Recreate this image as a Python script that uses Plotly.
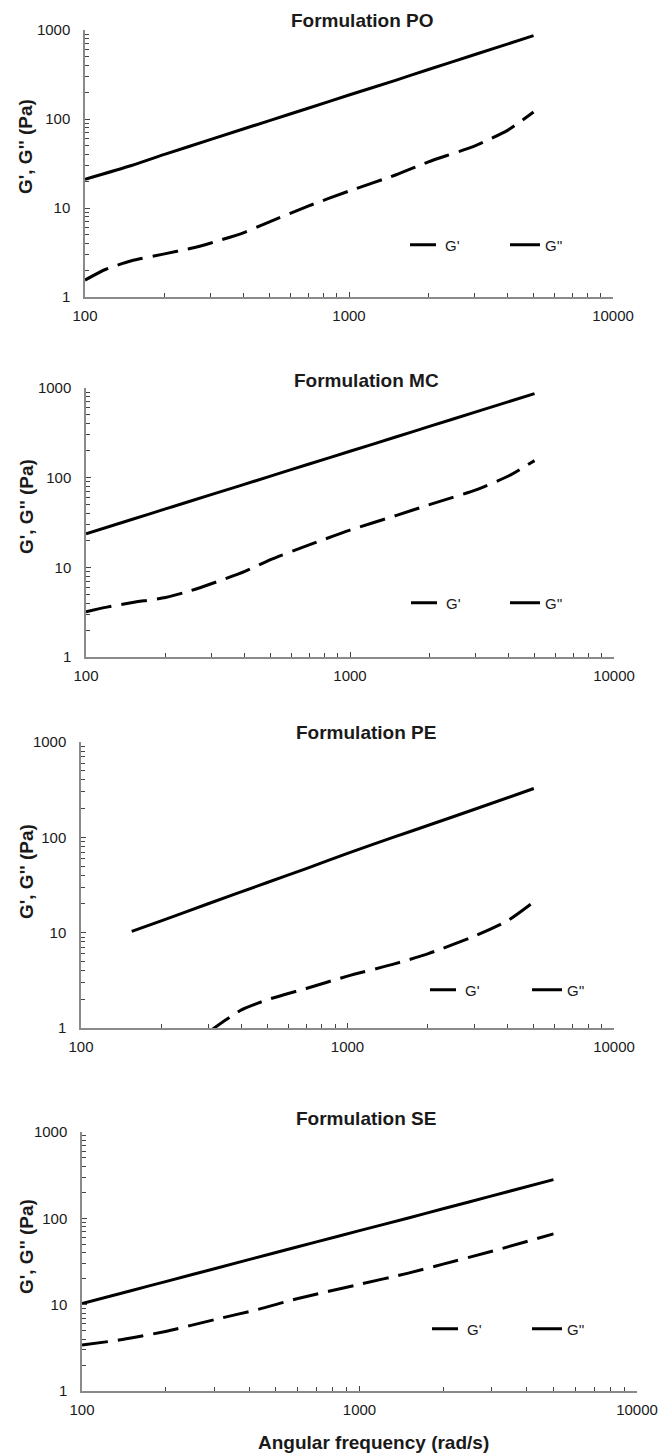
import plotly.graph_objects as go

W, H = 672, 1453

# ---------------- data ----------------
titles = ["Formulation PO", "Formulation MC", "Formulation PE", "Formulation SE"]

po_freq_loss = [100, 150, 200, 300, 500, 700, 1000, 1500, 2000, 3000, 5000]
po_loss = [21, 30, 40, 59, 96, 132, 186, 272, 360, 530, 864]
po_freq_storage = [100, 120, 150, 200, 250, 300, 400, 500, 700, 1000, 1500, 2000, 3000, 4000, 5000]
po_storage = [1.55, 2.05, 2.55, 3.05, 3.5, 4.05, 5.3, 7.0, 10.5, 15.5, 23.5, 33, 50, 75, 120]

mc_freq_loss = [100, 150, 200, 300, 500, 700, 1000, 1500, 2000, 3000, 5000]
mc_loss = [23.7, 34.4, 44.8, 65, 104, 142, 197, 286, 373, 542, 865]
mc_freq_storage = [100, 120, 150, 200, 250, 300, 400, 500, 700, 1000, 1500, 2000, 3000, 4000, 5000]
mc_storage = [3.2, 3.6, 4.05, 4.6, 5.5, 6.6, 9.0, 12.2, 17.8, 26, 38, 50, 73, 105, 155]

pe_freq_loss = [155, 200, 300, 500, 700, 1000, 1500, 2000, 3000, 5000]
pe_loss = [10.3, 13.3, 20.1, 33.6, 47, 68, 101, 133, 197, 325]
pe_freq_storage = [300, 350, 400, 500, 700, 1000, 1500, 2000, 3000, 4000, 5000]
pe_storage = [0.9, 1.22, 1.55, 1.98, 2.6, 3.5, 4.7, 6.0, 9.2, 13.4, 21]

se_freq_loss = [100, 150, 200, 300, 500, 700, 1000, 1500, 2000, 3000, 5000]
se_loss = [10.3, 14.5, 18.5, 26.1, 40.2, 53.4, 72, 101, 129, 182, 281]
se_freq_storage = [100, 140, 200, 300, 430, 600, 1000, 1500, 2000, 3000, 5000]
se_storage = [3.4, 3.95, 4.9, 6.7, 8.8, 11.8, 17.2, 23.2, 29.5, 41.5, 66]

x_tick_vals = [100, 1000, 10000]
x_tick_text = ["100", "1000", "10000"]
x_minor_vals = [200, 300, 400, 500, 600, 700, 800, 900, 2000, 3000, 4000, 5000, 6000, 7000, 8000, 9000]
y_tick_vals = [1, 10, 100, 1000]
y_tick_text = ["1", "10", "100", "1000"]
y_minor_vals = [2, 3, 4, 5, 6, 7, 8, 9, 20, 30, 40, 50, 60, 70, 80, 90, 200, 300, 400, 500, 600, 700, 800, 900]

storage_name = "G'"
loss_name = "G''"
y_label = "G', G'' (Pa)"
x_label = "Angular frequency (rad/s)"

# ---------------- layout geometry (pixels) ----------------
# left, right, top, bottom of each plot area
panels_px = [(85, 613, 30, 297), (86, 614, 388, 657), (81, 614, 742, 1028), (82, 637, 1132, 1391)]
title_px = [(362, 20), (367, 380), (366, 732), (366, 1118)]
ylabel_px = [(26, 147), (26, 507), (26, 872), (26, 1247)]
legend_storage_px = [(405, 245), (406, 603), (425, 990), (427, 1329)]
legend_loss_px = [(505, 245), (505, 603), (527, 990), (527, 1329)]

FONT = "Arial, 'Liberation Sans', sans-serif"
TXT = "#1a1a1a"

series = [
    (po_freq_storage, po_storage, po_freq_loss, po_loss),
    (mc_freq_storage, mc_storage, mc_freq_loss, mc_loss),
    (pe_freq_storage, pe_storage, pe_freq_loss, pe_loss),
    (se_freq_storage, se_storage, se_freq_loss, se_loss),
]

fig = go.Figure()
layout = dict(
    width=W, height=H,
    margin=dict(l=0, r=0, t=0, b=0, autoexpand=False),
    paper_bgcolor="white", plot_bgcolor="white",
    font=dict(family=FONT, color=TXT),
    showlegend=True,
    annotations=[],
)

def px2x(px):
    return px / W

def px2y(py):
    return 1 - py / H

for i, (fs, s, fl, l) in enumerate(series):
    n = "" if i == 0 else str(i + 1)
    xa, ya = "x" + n, "y" + n
    lg_s = "legend" + ("" if i == 0 else str(2 * i + 1))
    lg_l = "legend" + str(2 * i + 2)
    fig.add_trace(go.Scatter(
        x=fs, y=s, mode="lines", name=storage_name, xaxis=xa, yaxis=ya,
        line=dict(color="black", width=3, dash="26px,10px", shape="spline", smoothing=0.6),
        legend=lg_s, showlegend=True, hoverinfo="skip"))
    fig.add_trace(go.Scatter(
        x=fl, y=l, mode="lines", name=loss_name, xaxis=xa, yaxis=ya,
        line=dict(color="black", width=3, shape="spline", smoothing=0.6),
        legend=lg_l, showlegend=True, hoverinfo="skip"))

    L, R, T, B = panels_px[i]
    layout["xaxis" + n] = dict(
        type="log", range=[2, 4], domain=[px2x(L), px2x(R)], anchor=ya,
        tickvals=x_tick_vals, ticktext=x_tick_text,
        ticks="inside", ticklen=5, tickwidth=1, tickcolor="#444",
        minor=dict(tickvals=x_minor_vals, ticks="inside", ticklen=4, tickwidth=1, tickcolor="#444", showgrid=False),
        showline=True, linecolor="#8a8a8a", linewidth=1.5, showgrid=False, zeroline=False,
        tickfont=dict(size=15, color=TXT, family=FONT), ticklabelstandoff=4,
        fixedrange=True,
    )
    layout["yaxis" + n] = dict(
        type="log", range=[0, 3], domain=[px2y(B), px2y(T)], anchor=xa,
        tickvals=y_tick_vals, ticktext=y_tick_text,
        ticks="inside", ticklen=5, tickwidth=1, tickcolor="#444",
        minor=dict(tickvals=y_minor_vals, ticks="inside", ticklen=4, tickwidth=1, tickcolor="#444", showgrid=False),
        showline=True, linecolor="#8a8a8a", linewidth=1.5, showgrid=False, zeroline=False,
        tickfont=dict(size=15, color=TXT, family=FONT), ticklabelstandoff=10,
        fixedrange=True,
    )
    sx, sy = legend_storage_px[i]
    lx, ly = legend_loss_px[i]
    layout[lg_s] = dict(x=px2x(sx), y=px2y(sy), xanchor="left", yanchor="middle",
                        orientation="h", bgcolor="rgba(0,0,0,0)", borderwidth=0,
                        font=dict(size=15, color=TXT, family=FONT), visible=True)
    layout[lg_l] = dict(x=px2x(lx), y=px2y(ly), xanchor="left", yanchor="middle",
                        orientation="h", bgcolor="rgba(0,0,0,0)", borderwidth=0,
                        font=dict(size=15, color=TXT, family=FONT), visible=True)

    tx, ty = title_px[i]
    layout["annotations"].append(dict(
        text="<b>" + titles[i] + "</b>", x=px2x(tx), y=px2y(ty), xref="paper", yref="paper",
        xanchor="center", yanchor="middle", showarrow=False, font=dict(size=19, color=TXT, family=FONT)))
    yx, yy = ylabel_px[i]
    layout["annotations"].append(dict(
        text="<b>" + y_label + "</b>", x=px2x(yx), y=px2y(yy), xref="paper", yref="paper",
        xanchor="center", yanchor="middle", textangle=-90, showarrow=False,
        font=dict(size=19, color=TXT, family=FONT)))

layout["annotations"].append(dict(
    text="<b>" + x_label + "</b>", x=px2x(373), y=px2y(1442), xref="paper", yref="paper",
    xanchor="center", yanchor="middle", showarrow=False, font=dict(size=19, color=TXT, family=FONT)))

fig.update_layout(**layout)
fig.write_html("out.html")
